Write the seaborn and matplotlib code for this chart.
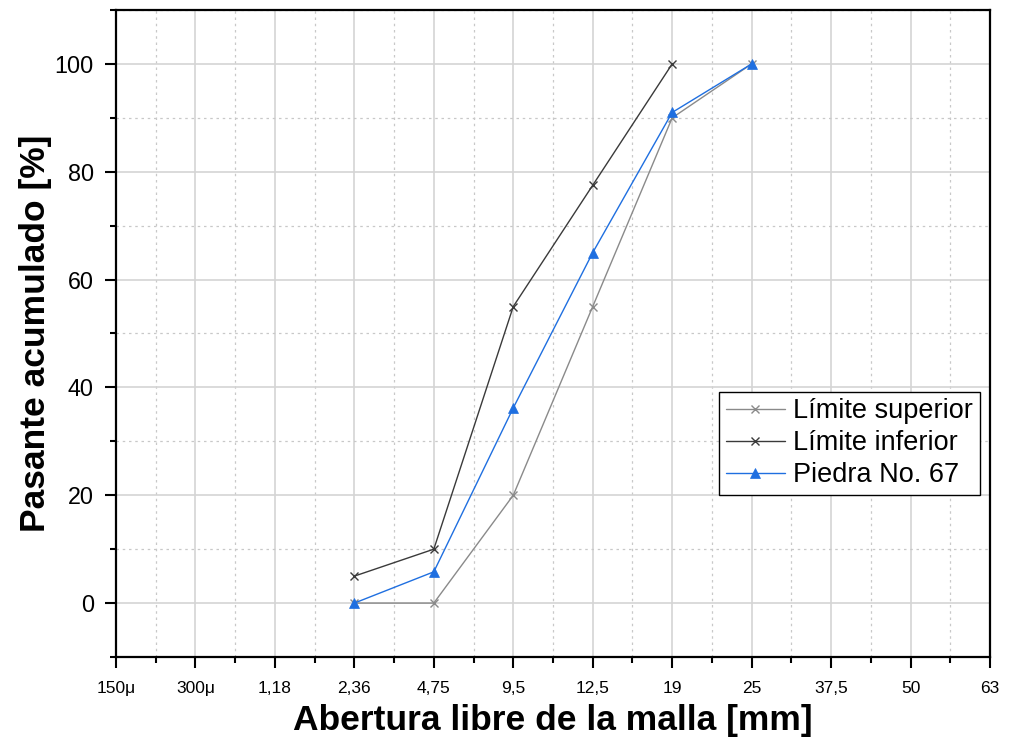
import matplotlib
matplotlib.use("Agg")
import matplotlib.pyplot as plt
from matplotlib.ticker import MultipleLocator, FixedLocator
import seaborn as sns
import pandas as pd

# Sieve openings (categorical axis, equally spaced)
sieve_labels = ['150μ', '300μ', '1,18', '2,36', '4,75', '9,5', '12,5', '19', '25', '37,5', '50', '63']

# Gradation limits and measured curve (cumulative % passing)
sup_sieves = ['2,36', '4,75', '9,5', '12,5', '19', '25']
sup_values = [0, 0, 20, 55, 90, 100]

inf_sieves = ['2,36', '4,75', '9,5', '12,5', '19']
inf_values = [5, 10, 55, 77.5, 100]

stone_sieves = ['2,36', '4,75', '9,5', '12,5', '19', '25']
stone_values = [0, 5.8, 36.2, 65, 91, 100]

series_names = ['Límite superior', 'Límite inferior', 'Piedra No. 67']

sns.set_style("white")
plt.rcParams['font.family'] = ['Liberation Sans', 'DejaVu Sans']
plt.rcParams['text.color'] = 'black'
plt.rcParams['axes.labelcolor'] = 'black'
plt.rcParams['xtick.color'] = 'black'
plt.rcParams['ytick.color'] = 'black'

pos = {lab: i for i, lab in enumerate(sieve_labels)}

def frame(sieves, values, name):
    return pd.DataFrame({'x': [pos[s] for s in sieves], 'y': values, 'serie': name})

df_sup = frame(sup_sieves, sup_values, series_names[0])
df_inf = frame(inf_sieves, inf_values, series_names[1])
df_stone = frame(stone_sieves, stone_values, series_names[2])

fig = plt.figure(figsize=(10.12, 7.51), dpi=100)
ax = fig.add_axes([116 / 1012, 1 - 657 / 751, (990 - 116) / 1012, (657 - 10) / 751])

c_sup, c_inf, c_stone = '#8a8a8a', '#3a3a3a', '#1f6fe0'
sns.lineplot(data=df_sup, x='x', y='y', ax=ax, color=c_sup, lw=1.0,
             marker='x', markersize=6, markeredgewidth=1.0,
             markeredgecolor=c_sup, label=series_names[0])
sns.lineplot(data=df_inf, x='x', y='y', ax=ax, color=c_inf, lw=1.0,
             marker='x', markersize=6, markeredgewidth=1.0,
             markeredgecolor=c_inf, label=series_names[1])
sns.lineplot(data=df_stone, x='x', y='y', ax=ax, color=c_stone, lw=1.0,
             marker='^', markersize=7, markeredgewidth=0.5,
             markeredgecolor=c_stone, markerfacecolor=c_stone, label=series_names[2])

ax.set_xlim(0, len(sieve_labels) - 1)
ax.set_ylim(-10, 110)
ax.set_xticks(range(len(sieve_labels)))
ax.set_xticklabels(sieve_labels, fontsize=12.5)
ax.xaxis.set_minor_locator(MultipleLocator(0.5))
ax.set_yticks([0, 20, 40, 60, 80, 100])
ax.yaxis.set_minor_locator(FixedLocator([-10, 10, 30, 50, 70, 90, 110]))
ax.tick_params(axis='y', labelsize=16.8, pad=8)
ax.tick_params(axis='x', pad=9)

ax.tick_params(which='major', direction='out', length=8, width=1.5, color='black',
               bottom=True, left=True, top=False, right=False)
ax.tick_params(which='minor', direction='out', length=4.5, width=1.5, color='black',
               bottom=True, left=True, top=False, right=False)

ax.grid(which='major', color='#d4d4d4', lw=1.2, ls='-')
ax.grid(which='minor', color='#c8c8c8', lw=0.9, ls=(0, (2, 3)))
ax.set_axisbelow(True)

for sp in ax.spines.values():
    sp.set_visible(True)
    sp.set_color('black')
    sp.set_linewidth(1.6)

ax.set_xlabel('Abertura libre de la malla [mm]', fontsize=25.5, fontweight='bold', labelpad=6)
ax.set_ylabel('Pasante acumulado [%]', fontsize=25.5, fontweight='bold', labelpad=2)

leg = ax.legend(loc='lower right', bbox_to_anchor=(0.9886, 0.2504), fontsize=19.5,
                frameon=True, fancybox=False, edgecolor='black', framealpha=1,
                borderpad=0.25, handlelength=2.2, handletextpad=0.3, labelspacing=0.22,
                borderaxespad=0)
leg.get_frame().set_linewidth(1.0)

fig.savefig('out.png', dpi=100)
